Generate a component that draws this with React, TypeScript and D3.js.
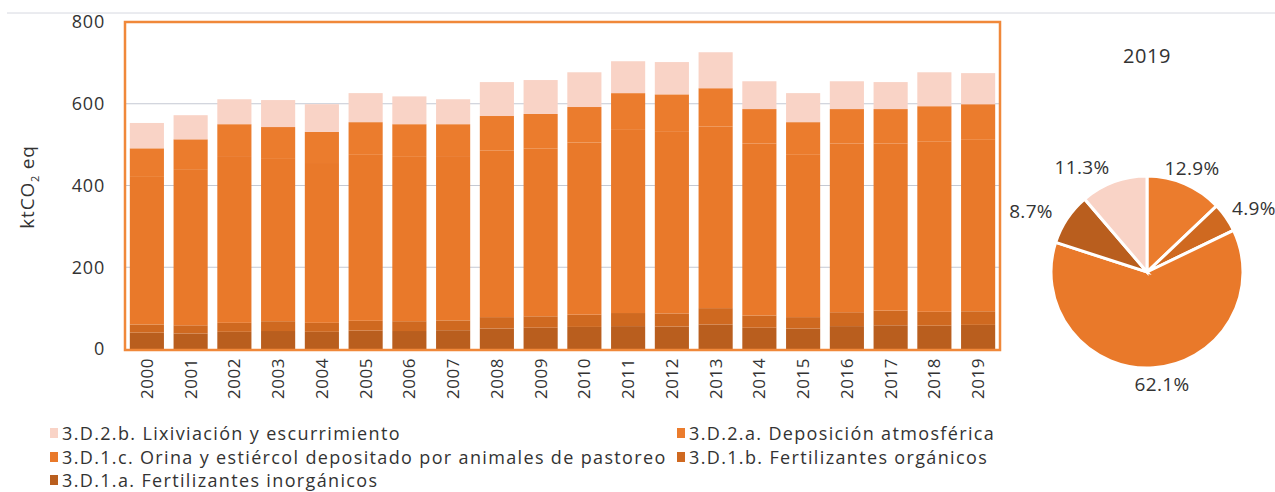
import React from "react";
import * as d3 from "d3";

const years = ["2000","2001","2002","2003","2004","2005","2006","2007","2008","2009","2010","2011","2012","2013","2014","2015","2016","2017","2018","2019"];
// 3.D.1.a Fertilizantes inorgánicos
const s1a = [40,38,42,44,42,45,44,46,50,52,54,56,55,60,52,50,56,58,57,59];
// 3.D.1.b Fertilizantes orgánicos
const s1b = [20,20,22,24,22,24,24,24,28,28,30,32,32,40,30,28,34,36,34,33.3];
// 3.D.1.c Orina y estiércol depositado por animales de pastoreo
const s1c = [361,382,408,397,391,406,402,402,408,410,421,448,446,444,421,397,413,409,416,419.4];
// 3.D.2.a Deposición atmosférica
const s2a = [70,73,78,78,76,80,80,78,84,85,87,90,90,94,84,80,84,84,87,87.2];
// 3.D.2.b Lixiviación y escurrimiento
const s2b = [62,59,61,66,68,71,68,61,83,83,85,78,79,88,68,71,68,66,83,76];

const seriesNames = [
  "3.D.1.a. Fertilizantes inorgánicos",
  "3.D.1.b. Fertilizantes orgánicos",
  "3.D.1.c. Orina y estiércol depositado por animales de pastoreo",
  "3.D.2.a. Deposición atmosférica",
  "3.D.2.b. Lixiviación y escurrimiento",
];
const seriesKeys = ["a1", "b1", "c1", "a2", "b2"];
const seriesColors = ["#b95e1e", "#cf6920", "#e9792a", "#eb7c2d", "#f9d3c6"];
const yTicks = [0, 200, 400, 600, 800];
const pieYear = "2019";
// pie slices clockwise from 12 o'clock
const pieOrder = ["a2", "b1", "c1", "a1", "b2"];

const W = 1275, H = 492;
const font = "'Open Sans', sans-serif";

export default function App() {
  const rows = years.map((y, i) => ({ year: y, a1: s1a[i], b1: s1b[i], c1: s1c[i], a2: s2a[i], b2: s2b[i] }));
  const stack = d3.stack<any>().keys(seriesKeys)(rows);
  const x = d3.scaleBand().domain(years).range([125, 1000]).paddingInner(0.22).paddingOuter(0.11);
  const y = d3.scaleLinear().domain([0, 800]).range([349, 22]);

  const pieRow: any = rows[years.indexOf(pieYear)];
  const pieData = pieOrder.map((k) => ({ key: k, value: pieRow[k] }));
  const total = d3.sum(pieData, (d) => d.value);
  const arcs = d3.pie<any>().sort(null).value((d) => d.value)(pieData);
  const cx = 1147, cy = 272, r = 96;
  const arcGen = d3.arc<any>().innerRadius(0).outerRadius(r);
  const fmt = d3.format(".1f");
  const labelPos: Record<string, [number, number, string]> = {
    a2: [1192, 175, "middle"],
    b1: [1232, 215, "start"],
    c1: [1162, 391, "middle"],
    a1: [1031, 218, "middle"],
    b2: [1082, 174, "middle"],
  };

  const legendItems = [
    { k: "b2", x: 50, y: 434 },
    { k: "a2", x: 677, y: 434 },
    { k: "c1", x: 50, y: 458 },
    { k: "b1", x: 677, y: 458 },
    { k: "a1", x: 50, y: 481 },
  ];

  return (
    <svg width={W} height={H} style={{ position: "absolute", left: 0, top: 0, background: "#fff" }}>
      <line x1={7} x2={W} y1={13} y2={13} stroke="#d6d8e0" strokeWidth={1} />
      {yTicks.filter((t) => t > 0 && t < 800).map((t) => (
        <line key={t} x1={125} x2={1000} y1={y(t)} y2={y(t)} stroke="#c5c9d3" strokeWidth={1} />
      ))}
      {stack.map((s, si) => (
        <g key={s.key} fill={seriesColors[si]}>
          {s.map((d: any, i: number) => (
            <rect key={i} x={x(years[i])} width={x.bandwidth()} y={y(d[1])} height={Math.max(0, y(d[0]) - y(d[1]))} />
          ))}
        </g>
      ))}
      <rect x={125} y={22} width={875} height={328} fill="none" stroke="#f0883a" strokeWidth={2.5} />
      {yTicks.map((t) => (
        <text key={t} x={105} y={y(t)} dy="0.35em" textAnchor="end" fontFamily={font} fontSize={18} letterSpacing={0.8} fill="#333">{t}</text>
      ))}
      <text transform="translate(34,187) rotate(-90)" textAnchor="middle" fontFamily={font} fontSize={19} letterSpacing={0.8} fill="#333">
        ktCO<tspan fontSize={11} dy={5}>2</tspan><tspan dy={-5}> eq</tspan>
      </text>
      {years.map((yr) => (
        <text key={yr} transform={`translate(${(x(yr) as number) + x.bandwidth() / 2},358) rotate(-90)`} textAnchor="end" dy="0.35em" fontFamily={font} fontSize={17} letterSpacing={0.5} fill="#333">{yr}</text>
      ))}
      <text x={1147} y={63} textAnchor="middle" fontFamily={font} fontSize={20} letterSpacing={0.6} fill="#333">{pieYear}</text>
      <g transform={`translate(${cx},${cy})`}>
        {arcs.map((a: any) => (
          <path key={a.data.key} d={arcGen(a) as string} fill={seriesColors[seriesKeys.indexOf(a.data.key)]} stroke="#fff" strokeWidth={3} />
        ))}
      </g>
      {arcs.map((a: any) => {
        const p = labelPos[a.data.key];
        return (
          <text key={a.data.key} x={p[0]} y={p[1]} textAnchor={p[2] as any} fontFamily={font} fontSize={19} letterSpacing={0.3} fill="#333">
            {fmt((a.data.value / total) * 100)}%
          </text>
        );
      })}
      {legendItems.map((it) => {
        const si = seriesKeys.indexOf(it.k);
        return (
          <g key={it.k}>
            <rect x={it.x} y={it.y - 6} width={8} height={10} fill={seriesColors[si]} />
            <text x={it.x + 12} y={it.y + 6} fontFamily={font} fontSize={18} letterSpacing={1.35} fill="#333">{seriesNames[si]}</text>
          </g>
        );
      })}
    </svg>
  );
}
